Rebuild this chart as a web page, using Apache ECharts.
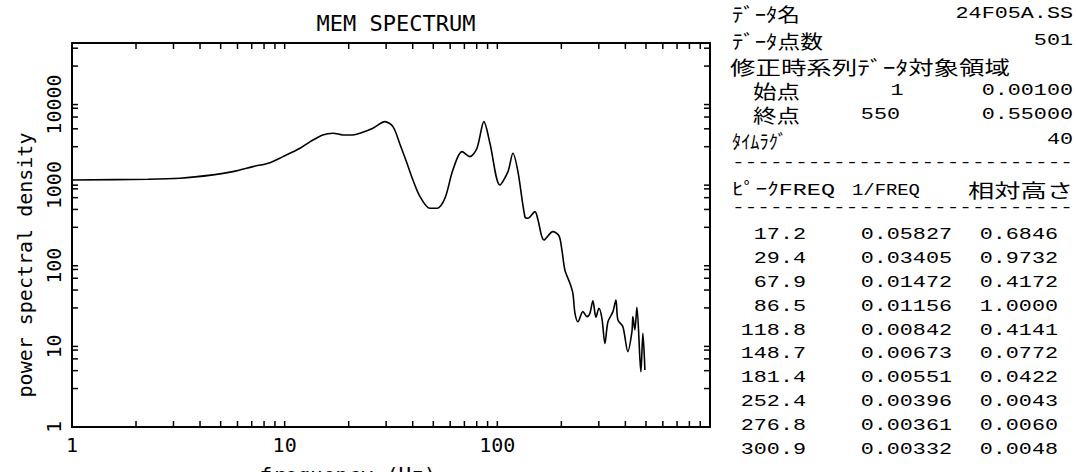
<!DOCTYPE html>
<html>
<head>
<meta charset="utf-8">
<script src="https://cdn.jsdelivr.net/npm/echarts@6/dist/echarts.min.js"></script>
<style>
  html, body { margin: 0; padding: 0; background: #fff; }
  #chart { width: 1076px; height: 472px; }
</style>
</head>
<body>
<div id="chart"></div>
<script>
// ---------------- data ----------------
const freq = [1, 2.28, 3.22, 4.6, 5.71, 7.1, 8.53, 9.82, 11.8, 13.2, 15.1, 16.9, 18.8, 20.9, 22.6, 26.0,
  29.6, 32.3, 34.8, 37.6, 40.1, 43.3, 48.2, 52.0, 56.7, 61.8, 68.2, 74.3, 80.2, 86.5, 92.3, 102.8,
  112.2, 118.4, 125.0, 134.8, 139.3, 150.3, 155.3, 165.6, 182.5, 194.8, 201.2, 207.8, 219.4, 226.6,
  231.7, 239.3, 252.6, 263.9, 272.5, 281.5, 290.8, 300.4, 310.3, 320.6, 331.2, 349.6, 361.1, 368.9,
  389.4, 411.0, 429.5, 433.9, 443.4, 453.1, 468.1, 473.2, 483.6, 494.2];
const psd = [1161, 1184, 1218, 1340, 1472, 1699, 1902, 2258, 2871, 3467, 4198, 4406, 4198, 4198, 4406, 5082,
  6136, 5320, 3245, 1870, 1161, 720, 516, 516, 688, 1544, 2606, 2258, 2871, 6136, 3311, 1005,
  1472, 2489, 1472, 406, 388, 469, 370, 209, 265, 236, 157, 88.7, 60.7, 45.6,
  25.8, 20.2, 27.0, 23.4, 25.8, 36.9, 23.0, 29.7, 22.3, 10.9, 20.2, 27.0, 37.6, 21.3,
  17.5, 8.6, 15.2, 23.4, 16.0, 30.6, 7.1, 4.85, 14.5, 5.1];

const xTickValues = [1, 2, 3, 4, 5, 6, 7, 8, 9, 10, 20, 30, 40, 50, 60, 70, 80, 90, 100,
  200, 300, 400, 500, 600, 700, 800, 900, 1000];
const yTickValues = [1, 3, 5, 7, 9, 10, 30, 50, 70, 90, 100, 300, 500, 700, 900, 1000,
  3000, 5000, 7000, 9000, 10000, 30000, 50000];
const xLabelValues = [1, 10, 100];
const yLabelValues = [1, 10, 100, 1000, 10000];
const X_MIN = 1, X_MAX = 1000, Y_MIN = 1, Y_MAX = 58000;

const chartTitle = 'MEM SPECTRUM';
const xName = 'frequency (Hz)';
const yName = 'power spectral density';

const infoLabels = ['ﾃﾞｰﾀ名', 'ﾃﾞｰﾀ点数', '修正時系列ﾃﾞｰﾀ対象領域', '始点', '終点', 'ﾀｲﾑﾗｸﾞ'];
const infoIndex = ['', '', '', '1', '550', ''];
const infoValues = ['24F05A.SS', '501', '', '0.00100', '0.55000', '40'];
const headers = ['ﾋﾟｰｸFREQ', '1/FREQ', '相対高さ'];
const peakFreq = ['17.2', '29.4', '67.9', '86.5', '118.8', '148.7', '181.4', '252.4', '276.8', '300.9'];
const invFreq = ['0.05827', '0.03405', '0.01472', '0.01156', '0.00842', '0.00673', '0.00551', '0.00396', '0.00361', '0.00332'];
const relHeight = ['0.6846', '0.9732', '0.4172', '1.0000', '0.4141', '0.0772', '0.0422', '0.0043', '0.0060', '0.0048'];
const dashLine = '---------------------------';

// ---------------- layout ----------------
const INK = '#000';
const plotFamily = '"DejaVu Sans Mono", monospace';
const monoFamily = '"Liberation Mono", "Noto Sans CJK JP", monospace';
const cjkFamily = '"Noto Sans CJK JP", "Liberation Mono", sans-serif';
const MONO = '17px ' + monoFamily;
const CJK = '19px ' + cjkFamily;
const TICK = 6;

const mctx = document.createElement('canvas').getContext('2d');
function measure(text, font) { mctx.font = font; return mctx.measureText(text).width; }
const MONO_SCALE = 1.28;

function txt(text, x, y, align, font, scaleX) {
  return {
    type: 'text', x: x, y: y, scaleX: scaleX || 1, silent: true,
    style: { text: text, font: font, fill: INK, align: align, verticalAlign: 'middle' }
  };
}
function spanTxt(text, left, y, span, font) {
  return txt(text, left, y, 'left', font, span / measure(text, font));
}

const panel = [];
const infoY = [13.5, 40.5, 66.5, 90.5, 115, 140];
const infoSpan = [68, 91, 280, 47, 47, 55];
const infoLeft = [732, 732, 730, 753, 753, 732];
infoLabels.forEach((t, i) => panel.push(spanTxt(t, infoLeft[i], infoY[i], infoSpan[i], CJK)));
infoValues.forEach((t, i) => { if (t) panel.push(txt(t, 1073, infoY[i], 'right', MONO, MONO_SCALE)); });
if (infoIndex[3]) panel.push(txt(infoIndex[3], 897, infoY[3], 'center', MONO, MONO_SCALE));
if (infoIndex[4]) panel.push(txt(infoIndex[4], 900, infoY[4], 'right', MONO, MONO_SCALE));
panel.push(spanTxt(dashLine, 732, 163, 341, MONO));
panel.push(spanTxt(headers[0], 732, 190, 103, MONO));
panel.push(spanTxt(headers[1], 852, 190, 68, MONO));
panel.push(spanTxt(headers[2], 968, 190, 105, CJK));
panel.push(spanTxt(dashLine, 732, 208, 341, MONO));
const rowY0 = 235, rowStep = 23.8;
peakFreq.forEach((t, i) => {
  const y = rowY0 + i * rowStep;
  panel.push(txt(t, 806, y, 'right', MONO, MONO_SCALE));
  panel.push(txt(invFreq[i], 952, y, 'right', MONO, MONO_SCALE));
  panel.push(txt(relHeight[i], 1058, y, 'right', MONO, MONO_SCALE));
});

const fmt = v => String(Math.round(v));
function mkAxis(pos, labels, showLabels, rotate, extra) {
  return Object.assign({
    type: 'log', logBase: 10, position: pos,
    axisLine: { show: true, onZero: false, lineStyle: { color: INK, width: 2 } },
    axisTick: { show: false },
    axisLabel: showLabels ? {
      show: true, customValues: labels, formatter: fmt, color: INK, rotate: rotate,
      fontFamily: 'DejaVu Sans Mono', fontSize: 20, margin: 8
    } : { show: false },
    splitLine: { show: false }, minorTick: { show: false }, minorSplitLine: { show: false }
  }, extra);
}

function seg(x1, y1, x2, y2) {
  return { type: 'line', shape: { x1: x1, y1: y1, x2: x2, y2: y2 }, style: { stroke: INK, lineWidth: 1.5 } };
}

const chart = echarts.init(document.getElementById('chart'), null, { renderer: 'svg', width: 1076, height: 472 });
chart.setOption({
  animation: false,
  grid: { left: 72, right: 366, top: 43, bottom: 45, containLabel: false, outerBoundsMode: 'none' },
  xAxis: [
    mkAxis('bottom', xLabelValues, true, 0, { min: X_MIN, max: X_MAX }),
    mkAxis('top', xLabelValues, false, 0, { min: X_MIN, max: X_MAX })
  ],
  yAxis: [
    mkAxis('left', yLabelValues, true, 90, { min: Y_MIN, max: Y_MAX }),
    mkAxis('right', yLabelValues, false, 0, { min: Y_MIN, max: Y_MAX })
  ],
  series: [
    {
      type: 'line',
      data: freq.map((f, i) => [f, psd[i]]),
      showSymbol: false, smooth: 0.3,
      lineStyle: { color: INK, width: 1.6 }
    },
    { // x-axis ticks (bottom and top), placed via the axis scale
      type: 'custom', silent: true, clip: false,
      data: xTickValues.map(v => [v, Y_MIN]),
      renderItem: (params, api) => {
        const v = api.value(0);
        const b = api.coord([v, Y_MIN]), t = api.coord([v, Y_MAX]);
        return { type: 'group', children: [seg(b[0], b[1], b[0], b[1] - TICK), seg(t[0], t[1], t[0], t[1] + TICK)] };
      }
    },
    { // y-axis ticks (left and right)
      type: 'custom', silent: true, clip: false,
      data: yTickValues.map(v => [X_MIN, v]),
      renderItem: (params, api) => {
        const v = api.value(1);
        const l = api.coord([X_MIN, v]), r = api.coord([X_MAX, v]);
        return { type: 'group', children: [seg(l[0], l[1], l[0] + TICK, l[1]), seg(r[0], r[1], r[0] - TICK, r[1])] };
      }
    }
  ],
  graphic: [
    txt(chartTitle, 396, 23, 'center', '22px ' + plotFamily, 1),
    Object.assign(txt(yName, 25, 265, 'center', '20px ' + plotFamily, 1), { rotation: Math.PI / 2 }),
    txt(xName, 348, 476, 'center', '21px ' + plotFamily, 1)
  ].concat(panel)
});
</script>
</body>
</html>
